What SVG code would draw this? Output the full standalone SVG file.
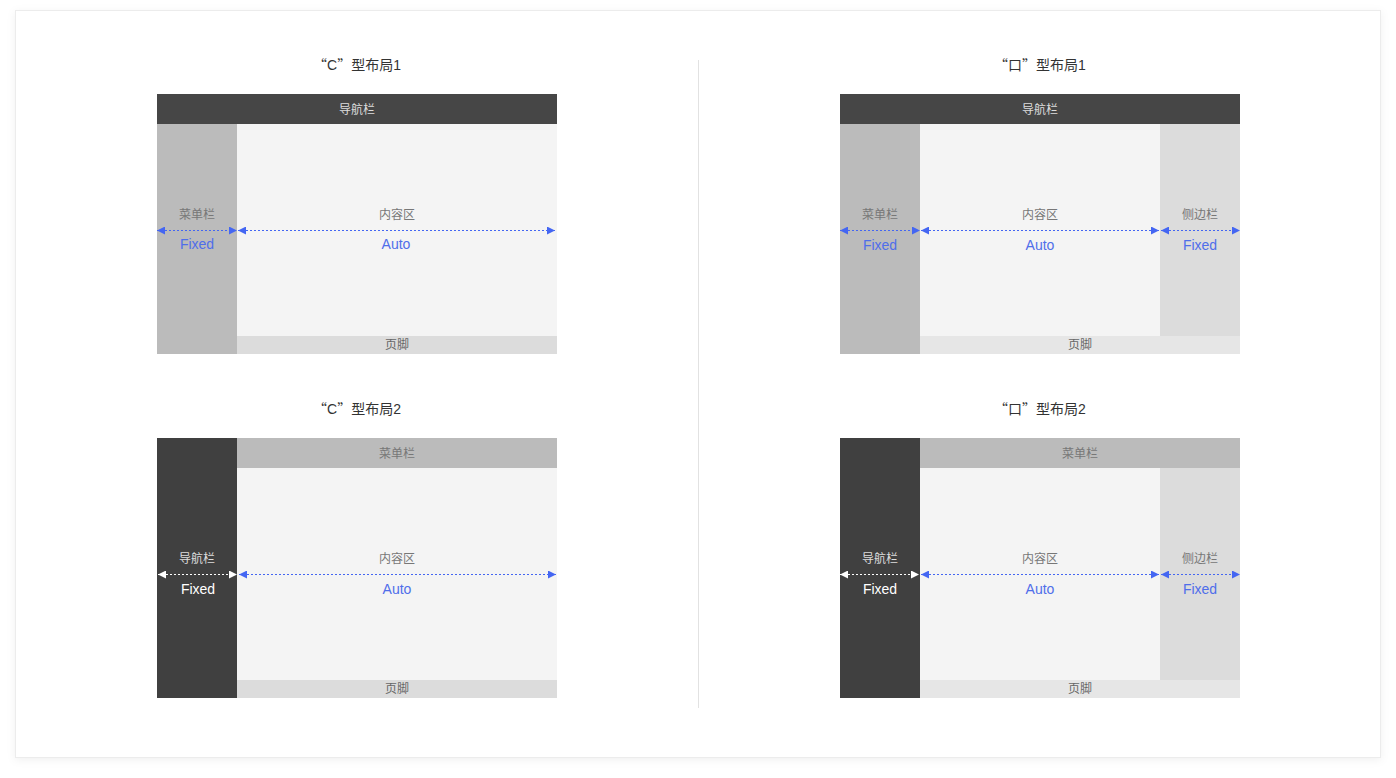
<svg xmlns="http://www.w3.org/2000/svg" width="1396" height="778" viewBox="0 0 1396 778">
<defs>
<filter id="sh" x="-5%" y="-5%" width="110%" height="110%">
<feDropShadow dx="0" dy="2" stdDeviation="4" flood-color="#000" flood-opacity="0.06"/>
</filter>
<marker id="ab" viewBox="0 0 8 8" refX="8" refY="4" markerWidth="8" markerHeight="8" markerUnits="userSpaceOnUse" orient="auto-start-reverse"><path d="M0,0 L8,4 L0,8 z" fill="#4466f2"/></marker>
<marker id="aw" viewBox="0 0 8 8" refX="8" refY="4" markerWidth="8" markerHeight="8" markerUnits="userSpaceOnUse" orient="auto-start-reverse"><path d="M0,0 L8,4 L0,8 z" fill="#ffffff"/></marker>
<style>
text{font-family:"Liberation Sans","Noto Sans CJK SC",sans-serif;text-anchor:middle}
.q{font-family:"Noto Sans CJK SC",sans-serif}
.t{font-size:14px;fill:#333}
.l{font-size:12px;fill:#777}
.ld{font-size:12px;fill:#ddd}
.v{font-size:14px;fill:#4f6eea}
.vw{font-size:14px;fill:#fff}
.f{font-size:12px;fill:#666}
.ab{stroke:#4466f2;stroke-width:1;stroke-dasharray:2 2;fill:none;marker-start:url(#ab);marker-end:url(#ab)}
.aw{stroke:#fff;stroke-width:1;stroke-dasharray:2 2;fill:none;marker-start:url(#aw);marker-end:url(#aw)}
</style>
</defs>
<rect x="15.5" y="10.5" width="1365" height="747" fill="#fff" stroke="#ececec" filter="url(#sh)"/>
<line x1="698.5" y1="60" x2="698.5" y2="708" stroke="#e2e2e2"/>

<g id="layout-c1">
<text class="t" x="357" y="70"><tspan class="q">“</tspan>C<tspan class="q">”</tspan>型布局1</text>
<g id="c1-nav"><rect x="157" y="94" width="400" height="30" fill="#464646"/><text class="ld" x="357" y="114">导航栏</text></g>
<g id="c1-menu"><rect x="157" y="124" width="80" height="230" fill="#bbbbbb"/><text class="l" x="197" y="219">菜单栏</text><text class="v" x="197" y="249">Fixed</text></g>
<g id="c1-content"><rect x="237" y="124" width="320" height="212" fill="#f4f4f4"/><text class="l" x="397" y="219">内容区</text><text class="v" x="396" y="249">Auto</text></g>
<g id="c1-footer"><rect x="237" y="336" width="320" height="18" fill="#dcdcdc"/><text class="f" x="397" y="349">页脚</text></g>
</g>

<g id="layout-k1">
<text class="t" x="1040" y="70"><tspan class="q">“口”</tspan>型布局1</text>
<g id="k1-nav"><rect x="840" y="94" width="400" height="30" fill="#464646"/><text class="ld" x="1040" y="114">导航栏</text></g>
<g id="k1-menu"><rect x="840" y="124" width="80" height="230" fill="#bbbbbb"/><text class="l" x="880" y="219">菜单栏</text><text class="v" x="880" y="250">Fixed</text></g>
<g id="k1-content"><rect x="920" y="124" width="240" height="212" fill="#f4f4f4"/><text class="l" x="1040" y="219">内容区</text><text class="v" x="1040" y="250">Auto</text></g>
<g id="k1-side"><rect x="1160" y="124" width="80" height="212" fill="#dcdcdc"/><text class="l" x="1200" y="219">侧边栏</text><text class="v" x="1200" y="250">Fixed</text></g>
<g id="k1-footer"><rect x="920" y="336" width="320" height="18" fill="#e6e6e6"/><text class="f" x="1080" y="349">页脚</text></g>
</g>

<g id="layout-c2">
<text class="t" x="357" y="414"><tspan class="q">“</tspan>C<tspan class="q">”</tspan>型布局2</text>
<g id="c2-nav"><rect x="157" y="438" width="80" height="260" fill="#404040"/><text class="ld" x="197" y="563">导航栏</text><text class="vw" x="198" y="594">Fixed</text></g>
<g id="c2-menu"><rect x="237" y="438" width="320" height="30" fill="#bbbbbb"/><text class="l" x="397" y="458">菜单栏</text></g>
<g id="c2-content"><rect x="237" y="468" width="320" height="212" fill="#f4f4f4"/><text class="l" x="397" y="563">内容区</text><text class="v" x="397" y="594">Auto</text></g>
<g id="c2-footer"><rect x="237" y="680" width="320" height="18" fill="#dcdcdc"/><text class="f" x="397" y="693">页脚</text></g>
</g>

<g id="layout-k2">
<text class="t" x="1040" y="414"><tspan class="q">“口”</tspan>型布局2</text>
<g id="k2-nav"><rect x="840" y="438" width="80" height="260" fill="#404040"/><text class="ld" x="880" y="563">导航栏</text><text class="vw" x="880" y="594">Fixed</text></g>
<g id="k2-menu"><rect x="920" y="438" width="320" height="30" fill="#bbbbbb"/><text class="l" x="1080" y="458">菜单栏</text></g>
<g id="k2-content"><rect x="920" y="468" width="240" height="212" fill="#f4f4f4"/><text class="l" x="1040" y="563">内容区</text><text class="v" x="1040" y="594">Auto</text></g>
<g id="k2-side"><rect x="1160" y="468" width="80" height="212" fill="#dcdcdc"/><text class="l" x="1200" y="563">侧边栏</text><text class="v" x="1200" y="594">Fixed</text></g>
<g id="k2-footer"><rect x="920" y="680" width="320" height="18" fill="#e6e6e6"/><text class="f" x="1080" y="693">页脚</text></g>
</g>

<g id="connectors">
<line class="ab" x1="157" y1="230.5" x2="237" y2="230.5"/>
<line class="ab" x1="238" y1="230.5" x2="555" y2="230.5"/>
<line class="ab" x1="840" y1="230.5" x2="920" y2="230.5"/>
<line class="ab" x1="921" y1="230.5" x2="1159" y2="230.5"/>
<line class="ab" x1="1161" y1="230.5" x2="1240" y2="230.5"/>
<line class="aw" x1="158" y1="574.5" x2="237" y2="574.5"/>
<line class="ab" x1="239" y1="574.5" x2="556" y2="574.5"/>
<line class="aw" x1="840" y1="574.5" x2="919" y2="574.5"/>
<line class="ab" x1="921" y1="574.5" x2="1159" y2="574.5"/>
<line class="ab" x1="1161" y1="574.5" x2="1240" y2="574.5"/>
</g>
</svg>
